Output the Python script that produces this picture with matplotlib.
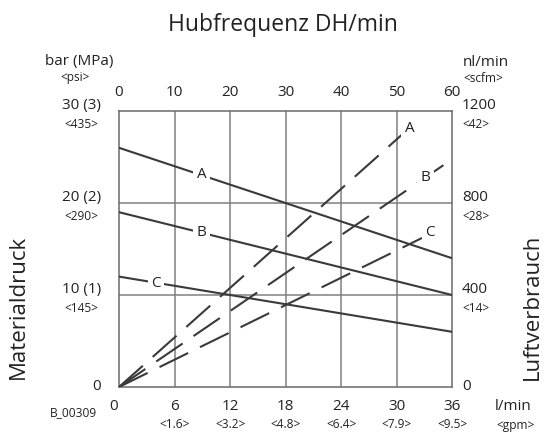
import matplotlib
matplotlib.use('Agg')
import matplotlib.pyplot as plt
import matplotlib.transforms as mtransforms

plt.rcParams['font.family'] = ['Open Sans', 'DejaVu Sans']
plt.rcParams['lines.scale_dashes'] = False

# Material pressure (bar) vs. fluid flow (l/min), solid lines
flow_lpm = [0, 36]
pressure = {
    'A': [26, 14],
    'B': [19, 10],
    'C': [12, 6],
}
pressure_label_at = {'A': (8.9, 23.05), 'B': (8.9, 16.8), 'C': (4.0, 11.3)}

# Air consumption (nl/min) vs. stroke frequency (DH/min), dashed lines
air_freq = {'A': [0, 54.6], 'B': [0, 60], 'C': [0, 54.6]}
air_flow = {'A': [0, 1175], 'B': [0, 990], 'C': [0, 648]}
air_label_at = {'A': (52.4, 1122), 'B': (55.3, 909), 'C': (56.0, 670)}

# axis labels
top_ticks = [0, 10, 20, 30, 40, 50, 60]
bottom_ticks = [0, 6, 12, 18, 24, 30, 36]
bottom_sub = ['', '<1.6>', '<3.2>', '<4.8>', '<6.4>', '<7.9>', '<9.5>']
left_ticks = [0, 10, 20, 30]
left_main = ['0', '10 (1)', '20 (2)', '30 (3)']
left_sub = ['', '<145>', '<290>', '<435>']
right_ticks = [0, 400, 800, 1200]
right_sub = ['', '<14>', '<28>', '<42>']

line_col = '#3a3a3a'
grid_col = '#808080'

fig = plt.figure(figsize=(5.56, 4.32), dpi=100)
ax = fig.add_axes([119 / 556, 1 - 387 / 432, 333 / 556, 276 / 432])
ax.set_xlim(0, 36)
ax.set_ylim(0, 30)
ax.set_xticks([])
ax.set_yticks([])
for s in ax.spines.values():
    s.set_color('#6a6a6a')
    s.set_linewidth(1.1)

for x in bottom_ticks[1:-1]:
    ax.axvline(x, color=grid_col, lw=1.1, zorder=1)
for y in left_ticks[1:-1]:
    ax.axhline(y, color=grid_col, lw=1.1, zorder=1)

# second axes on top for air consumption
ax2 = fig.add_axes(ax.get_position(), frameon=False)
ax2.set_xlim(0, 60)
ax2.set_ylim(0, 1200)
ax2.set_xticks([])
ax2.set_yticks([])

lbl_box = dict(facecolor='white', edgecolor='none', pad=2.5)

for k, vals in pressure.items():
    ax.plot(flow_lpm, vals, color=line_col, lw=1.5, zorder=3)
    x, y = pressure_label_at[k]
    ax.text(x, y, k, fontsize=11, ha='center', va='center', color='#222',
            bbox=lbl_box, zorder=5)

for k in air_freq:
    ax2.plot(air_freq[k], air_flow[k], color=line_col, lw=1.5,
             dashes=(23, 9.5), zorder=3)
    x, y = air_label_at[k]
    ax2.text(x, y, k, fontsize=11, ha='center', va='center', color='#222',
             bbox=lbl_box, zorder=5)

# tick labels as text
tc = '#222222'
bx = mtransforms.blended_transform_factory(ax.transData, fig.transFigure)
tx = mtransforms.blended_transform_factory(ax2.transData, fig.transFigure)
ly = mtransforms.blended_transform_factory(fig.transFigure, ax.transData)
ry = mtransforms.blended_transform_factory(fig.transFigure, ax2.transData)

def fy(py):
    return 1 - py / 432

def fx(px):
    return px / 556

sub_fs = 8.6

for v in top_ticks:
    ax2.text(v, fy(93), str(v), transform=tx, ha='center', va='center',
             fontsize=11, color=tc)

for v, sub in zip(bottom_ticks, bottom_sub):
    xo = v if v else -0.6
    ax.text(xo, fy(407), str(v), transform=bx, ha='center', va='center',
            fontsize=11, color=tc)
    if sub:
        ax.text(v, fy(425), sub, transform=bx, ha='center', va='center',
                fontsize=sub_fs, color=tc)

for v, m, sub in zip(left_ticks, left_main, left_sub):
    off = 0 if v == 0 else 0.55
    ax.text(fx(101), v + off, m, transform=ly, ha='right', va='center',
            fontsize=11, color=tc)
    if sub:
        ax.text(fx(81), v - 1.5, sub, transform=ly, ha='center', va='center',
                fontsize=sub_fs, color=tc)

for v, sub in zip(right_ticks, right_sub):
    off = 0 if v == 0 else 22
    ax2.text(fx(462), v + off, str(v), transform=ry, ha='left', va='center',
             fontsize=11, color=tc)
    if sub:
        ax2.text(fx(462), v - 60, sub, transform=ry, ha='left', va='center',
                 fontsize=sub_fs, color=tc)

fig.text(fx(79), fy(62), 'bar (MPa)', ha='center', va='center', fontsize=11, color=tc)
fig.text(fx(75), fy(78), '<psi>', ha='center', va='center', fontsize=sub_fs, color=tc)
fig.text(fx(463), fy(62), 'nl/min', ha='left', va='center', fontsize=11, color=tc)
fig.text(fx(463), fy(78), '<scfm>', ha='left', va='center', fontsize=sub_fs, color=tc)
fig.text(fx(495), fy(407), 'l/min', ha='left', va='center', fontsize=11, color=tc)
fig.text(fx(496), fy(425), '<gpm>', ha='left', va='center', fontsize=sub_fs, color=tc)
fig.text(fx(73), fy(413), 'B_00309', ha='center', va='center', fontsize=sub_fs, color=tc)

fig.text(fx(283), fy(31), 'Hubfrequenz DH/min', ha='center', va='baseline',
         fontsize=16.5, color=tc)
fig.text(fx(18), fy(307), 'Materialdruck', ha='center', va='center',
         rotation=90, fontsize=16, color=tc)
fig.text(fx(532), fy(307), 'Luftverbrauch', ha='center', va='center',
         rotation=90, fontsize=16, color=tc)

fig.savefig('out.png', dpi=100)
